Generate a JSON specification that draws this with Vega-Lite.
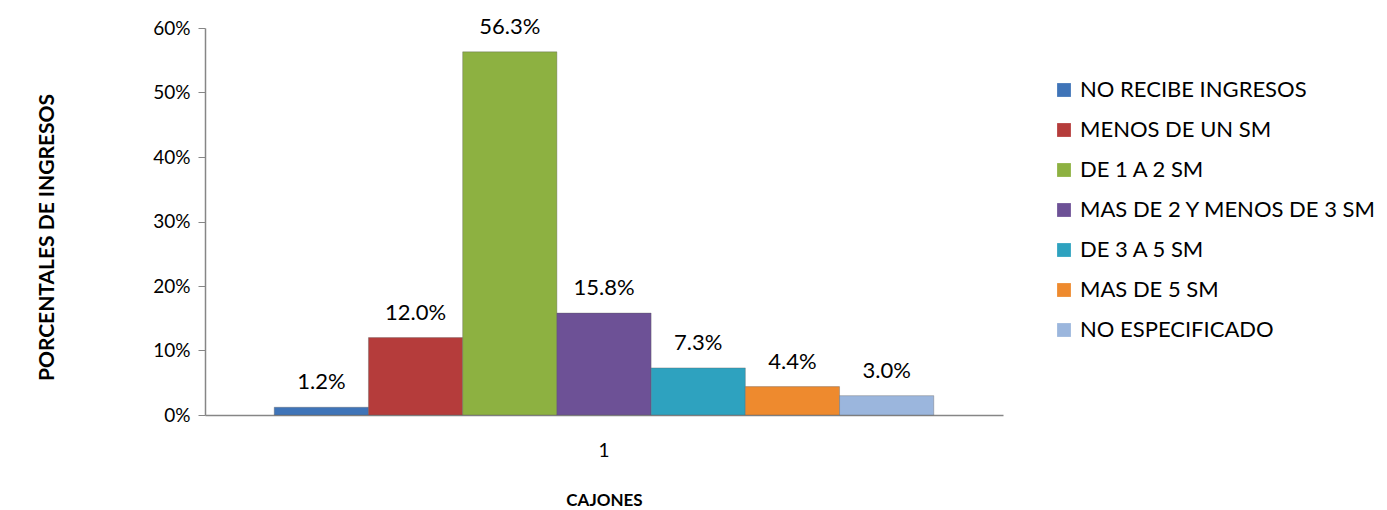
{
  "$schema": "https://vega.github.io/schema/vega-lite/v6.json",
  "width": 798,
  "height": 387,
  "autosize": {"type": "none"},
  "padding": {"left": 205, "top": 28, "right": 384, "bottom": 95},
  "background": "white",
  "config": {
    "font": "Lato",
    "view": {"stroke": null}
  },
  "data": {
    "values": [
      {"cajon": "1", "cat": "NO RECIBE INGRESOS", "pct": 0.012},
      {"cajon": "1", "cat": "MENOS DE UN SM", "pct": 0.120},
      {"cajon": "1", "cat": "DE 1 A 2 SM", "pct": 0.563},
      {"cajon": "1", "cat": "MAS DE 2 Y MENOS DE 3 SM", "pct": 0.158},
      {"cajon": "1", "cat": "DE 3 A 5 SM", "pct": 0.073},
      {"cajon": "1", "cat": "MAS DE 5 SM", "pct": 0.044},
      {"cajon": "1", "cat": "NO ESPECIFICADO", "pct": 0.030}
    ]
  },
  "encoding": {
    "x": {
      "field": "cajon",
      "type": "nominal",
      "scale": {"paddingInner": 0, "paddingOuter": 0.105},
      "axis": {
        "title": "CAJONES",
        "titleFontWeight": "bold",
        "titleFontSize": 17,
        "titleColor": "black",
        "titleY": 85,
        "titleBaseline": "middle",
        "labelAngle": 0,
        "labelFontSize": 19,
        "labelColor": "black",
        "labelPadding": 26,
        "ticks": false,
        "domainColor": "#868686",
        "domainWidth": 1.5
      }
    },
    "xOffset": {
      "field": "cat",
      "type": "nominal",
      "sort": ["NO RECIBE INGRESOS", "MENOS DE UN SM", "DE 1 A 2 SM", "MAS DE 2 Y MENOS DE 3 SM", "DE 3 A 5 SM", "MAS DE 5 SM", "NO ESPECIFICADO"],
      "scale": {"paddingInner": 0, "paddingOuter": 0}
    },
    "y": {
      "field": "pct",
      "type": "quantitative",
      "scale": {"domain": [0, 0.6]},
      "axis": {
        "title": "PORCENTALES DE INGRESOS",
        "titleFontWeight": "bold",
        "titleFontSize": 21,
        "titleColor": "black",
        "titleX": -158,
        "titleY": 209,
        "titleAngle": -90,
        "titleAlign": "center",
        "titleBaseline": "middle",
        "format": ".0%",
        "values": [0, 0.1, 0.2, 0.3, 0.4, 0.5, 0.6],
        "labelFontSize": 19,
        "labelColor": "black",
        "labelPadding": 8,
        "grid": false,
        "tickColor": "#868686",
        "tickSize": 7,
        "domainColor": "#868686",
        "domainWidth": 1.5
      }
    }
  },
  "layer": [
    {
      "mark": {"type": "bar", "stroke": "#5a5a5a", "strokeWidth": 0.6, "strokeOpacity": 0.6},
      "encoding": {
        "color": {
          "field": "cat",
          "type": "nominal",
          "sort": ["NO RECIBE INGRESOS", "MENOS DE UN SM", "DE 1 A 2 SM", "MAS DE 2 Y MENOS DE 3 SM", "DE 3 A 5 SM", "MAS DE 5 SM", "NO ESPECIFICADO"],
          "scale": {"range": ["#3f74b8", "#b53c3b", "#8db141", "#6d5196", "#2ea2bf", "#ee8a2e", "#9bb6dd"]},
          "legend": {
            "title": null,
            "orient": "none",
            "legendX": 848,
            "legendY": 51,
            "symbolType": "square",
            "symbolSize": 190,
            "symbolStrokeWidth": 0,
            "labelFontSize": 22,
            "labelLimit": 0,
            "labelColor": "black",
            "labelOffset": 5,
            "rowPadding": 18
          }
        }
      }
    },
    {
      "mark": {"type": "text", "dy": -25, "fontSize": 22, "color": "black", "baseline": "middle"},
      "encoding": {
        "text": {"field": "pct", "type": "quantitative", "format": ".1%"}
      }
    }
  ]
}
